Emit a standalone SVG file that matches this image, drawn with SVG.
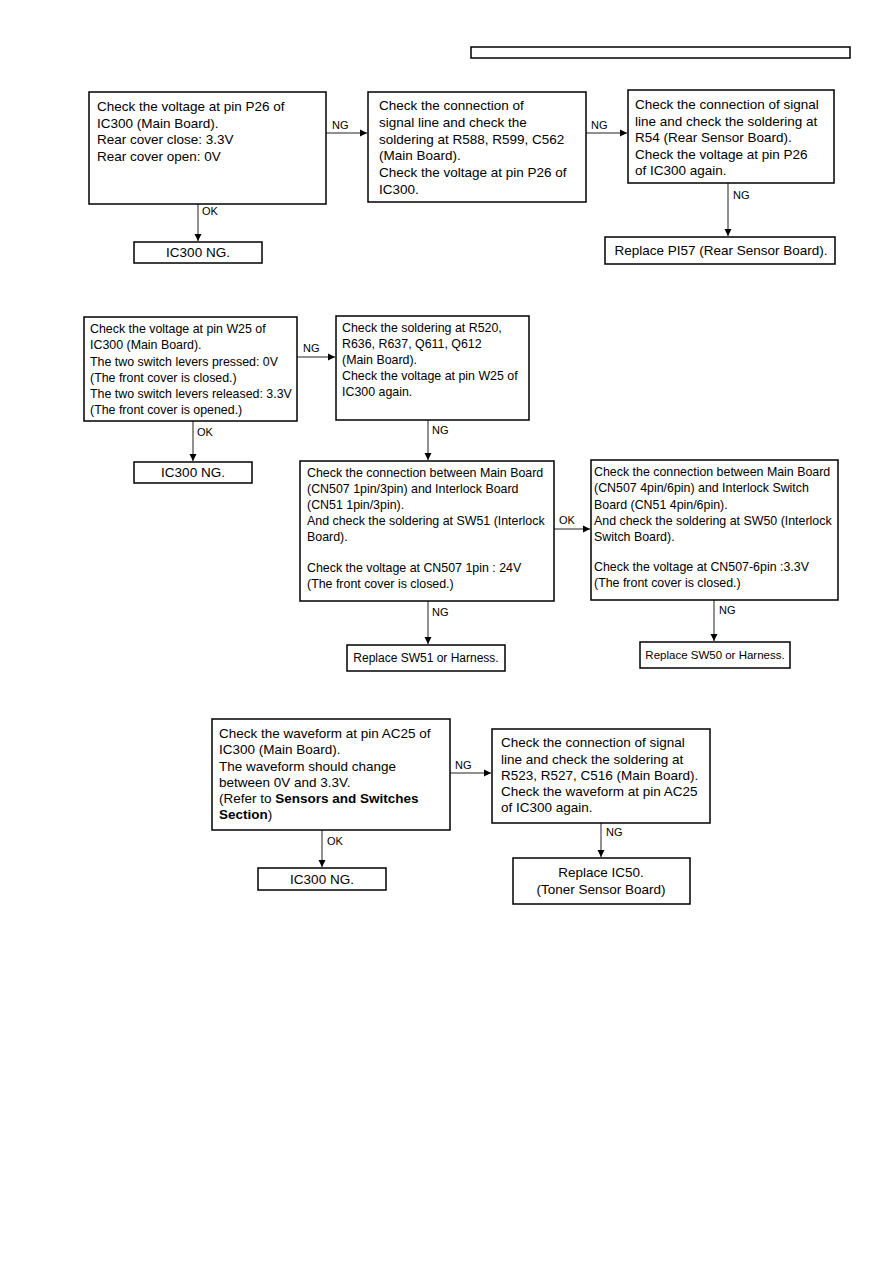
<svg xmlns="http://www.w3.org/2000/svg" width="893" height="1263" viewBox="0 0 893 1263">
<style>
.box{fill:#fff;stroke:#000;stroke-width:1.5}
.t{font-family:"Liberation Sans",Arial,sans-serif;font-size:13.5px;fill:#000}
.s{font-size:12.4px}
.lbl{font-family:"Liberation Sans",Arial,sans-serif;font-size:11px;fill:#000}
.c{text-anchor:middle}
.ln{stroke:#222;stroke-width:1;fill:none;marker-end:url(#ah)}
</style>
<defs>
<marker id="ah" markerWidth="8" markerHeight="8" refX="7" refY="4" orient="auto" markerUnits="userSpaceOnUse">
<path d="M0,0.5 L7,4 L0,7.5 Z" fill="#000"/>
</marker>
</defs>
<rect width="893" height="1263" fill="#fff"/>
<rect id="header" x="471" y="47" width="379" height="11" fill="#fff" stroke="#000" stroke-width="1.5"/>

<g id="connectors">
<line class="ln" x1="326" y1="133" x2="367" y2="133"/>
<line class="ln" x1="586" y1="133" x2="627" y2="133"/>
<line class="ln" x1="198" y1="204" x2="198" y2="241"/>
<line class="ln" x1="728" y1="183" x2="728" y2="236"/>
<line class="ln" x1="297" y1="357" x2="335" y2="357"/>
<line class="ln" x1="193" y1="421" x2="193" y2="461"/>
<line class="ln" x1="428" y1="420" x2="428" y2="460"/>
<line class="ln" x1="554" y1="529" x2="590" y2="529"/>
<line class="ln" x1="428" y1="601" x2="428" y2="644"/>
<line class="ln" x1="714" y1="600" x2="714" y2="641"/>
<line class="ln" x1="450" y1="773" x2="491" y2="773"/>
<line class="ln" x1="322" y1="830" x2="322" y2="867"/>
<line class="ln" x1="601" y1="823" x2="601" y2="857"/>
<text class="lbl" x="332" y="129">NG</text>
<text class="lbl" x="591" y="129">NG</text>
<text class="lbl" x="202" y="215">OK</text>
<text class="lbl" x="733" y="199">NG</text>
<text class="lbl" x="303" y="352">NG</text>
<text class="lbl" x="197" y="436">OK</text>
<text class="lbl" x="432" y="434">NG</text>
<text class="lbl" x="559" y="524">OK</text>
<text class="lbl" x="432" y="616">NG</text>
<text class="lbl" x="719" y="614">NG</text>
<text class="lbl" x="455" y="769">NG</text>
<text class="lbl" x="327" y="845">OK</text>
<text class="lbl" x="606" y="836">NG</text>
</g>

<g id="n1">
<rect class="box" x="89" y="92" width="237" height="112"/>
<text class="t" x="97" y="111">Check the voltage at pin P26 of</text>
<text class="t" x="97" y="128">IC300 (Main Board).</text>
<text class="t" x="97" y="144">Rear cover close: 3.3V</text>
<text class="t" x="97" y="161">Rear cover open: 0V</text>
</g>
<g id="n2">
<rect class="box" x="368" y="92" width="218" height="110"/>
<text class="t" x="379" y="110">Check the connection of</text>
<text class="t" x="379" y="127">signal line and check the</text>
<text class="t" x="379" y="144">soldering at R588, R599, C562</text>
<text class="t" x="379" y="160">(Main Board).</text>
<text class="t" x="379" y="177">Check the voltage at pin P26 of</text>
<text class="t" x="379" y="194">IC300.</text>
</g>
<g id="n3">
<rect class="box" x="628" y="90" width="206" height="93"/>
<text class="t" x="635" y="109">Check the connection of signal</text>
<text class="t" x="635" y="126">line and check the soldering at</text>
<text class="t" x="635" y="142">R54 (Rear Sensor Board).</text>
<text class="t" x="635" y="159">Check the voltage at pin P26</text>
<text class="t" x="635" y="175">of IC300 again.</text>
</g>
<g id="n4">
<rect class="box" x="134" y="242" width="128" height="21"/>
<text class="t c" x="198" y="257">IC300 NG.</text>
</g>
<g id="n5">
<rect class="box" x="605" y="237" width="230" height="27"/>
<text class="t c" x="721" y="255">Replace PI57 (Rear Sensor Board).</text>
</g>

<g id="n6">
<rect class="box" x="84" y="317" width="213" height="104"/>
<text class="t s" x="90" y="333">Check the voltage at pin W25 of</text>
<text class="t s" x="90" y="349">IC300 (Main Board).</text>
<text class="t s" x="90" y="366">The two switch levers pressed: 0V</text>
<text class="t s" x="90" y="382">(The front cover is closed.)</text>
<text class="t s" x="90" y="398">The two switch levers released: 3.3V</text>
<text class="t s" x="90" y="414">(The front cover is opened.)</text>
</g>
<g id="n7">
<rect class="box" x="336" y="316" width="193" height="104"/>
<text class="t s" x="342" y="332">Check the soldering at R520,</text>
<text class="t s" x="342" y="348">R636, R637, Q611, Q612</text>
<text class="t s" x="342" y="364">(Main Board).</text>
<text class="t s" x="342" y="380">Check the voltage at pin W25 of</text>
<text class="t s" x="342" y="396">IC300 again.</text>
</g>
<g id="n8">
<rect class="box" x="134" y="462" width="118" height="21"/>
<text class="t c" x="193" y="477">IC300 NG.</text>
</g>
<g id="n9">
<rect class="box" x="300" y="461" width="254" height="140"/>
<text class="t s" x="307" y="477">Check the connection between Main Board</text>
<text class="t s" x="307" y="493">(CN507 1pin/3pin) and Interlock Board</text>
<text class="t s" x="307" y="509">(CN51 1pin/3pin).</text>
<text class="t s" x="307" y="525">And check the soldering at SW51 (Interlock</text>
<text class="t s" x="307" y="541">Board).</text>
<text class="t s" x="307" y="572">Check the voltage at CN507 1pin : 24V</text>
<text class="t s" x="307" y="588">(The front cover is closed.)</text>
</g>
<g id="n10">
<rect class="box" x="591" y="460" width="247" height="140"/>
<text class="t s" x="594" y="476">Check the connection between Main Board</text>
<text class="t s" x="594" y="492">(CN507 4pin/6pin) and Interlock Switch</text>
<text class="t s" x="594" y="509">Board (CN51 4pin/6pin).</text>
<text class="t s" x="594" y="525">And check the soldering at SW50 (Interlock</text>
<text class="t s" x="594" y="541">Switch Board).</text>
<text class="t s" x="594" y="571">Check the voltage at CN507-6pin :3.3V</text>
<text class="t s" x="594" y="587">(The front cover is closed.)</text>
</g>
<g id="n11">
<rect class="box" x="347" y="645" width="158" height="26"/>
<text class="t c" style="font-size:12px" x="426" y="662">Replace SW51 or Harness.</text>
</g>
<g id="n12">
<rect class="box" x="640" y="642" width="150" height="26"/>
<text class="t c" style="font-size:11.5px" x="715" y="659">Replace SW50 or Harness.</text>
</g>

<g id="n13">
<rect class="box" x="212" y="719" width="238" height="111"/>
<text class="t" x="219" y="738">Check the waveform at pin AC25 of</text>
<text class="t" x="219" y="754">IC300 (Main Board).</text>
<text class="t" x="219" y="771">The waveform should change</text>
<text class="t" x="219" y="787">between 0V and 3.3V.</text>
<text class="t" x="219" y="803">(Refer to <tspan font-weight="bold">Sensors and Switches</tspan></text>
<text class="t" x="219" y="819"><tspan font-weight="bold">Section</tspan>)</text>
</g>
<g id="n14">
<rect class="box" x="492" y="729" width="218" height="94"/>
<text class="t" x="501" y="747">Check the connection of signal</text>
<text class="t" x="501" y="764">line and check the soldering at</text>
<text class="t" x="501" y="780">R523, R527, C516 (Main Board).</text>
<text class="t" x="501" y="796">Check the waveform at pin AC25</text>
<text class="t" x="501" y="812">of IC300 again.</text>
</g>
<g id="n15">
<rect class="box" x="258" y="868" width="128" height="22"/>
<text class="t c" x="322" y="884">IC300 NG.</text>
</g>
<g id="n16">
<rect class="box" x="513" y="858" width="177" height="46"/>
<text class="t c" x="601" y="877">Replace IC50.</text>
<text class="t c" x="601" y="894">(Toner Sensor Board)</text>
</g>
</svg>
